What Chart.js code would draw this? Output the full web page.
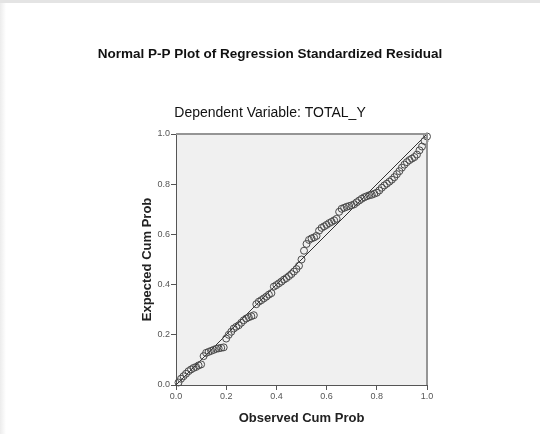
<!DOCTYPE html>
<html>
<head>
<meta charset="utf-8">
<script src="https://cdn.jsdelivr.net/npm/chart.js@4.4.1/dist/chart.umd.min.js"></script>
<style>
  html, body { margin: 0; padding: 0; background: #ffffff; }
  #wrap { position: relative; width: 540px; height: 434px; }
  #topband { position: absolute; left: 0; top: 0; width: 540px; height: 3px; background: #e4e4e4; }
  #leftshade { position: absolute; left: 0; top: 3px; width: 6px; height: 431px; background: linear-gradient(to right, #ececec, #ffffff); }
  canvas { position: absolute; left: 0; top: 0; }
</style>
</head>
<body>
<div id="wrap">
  <div id="topband"></div>
  <div id="leftshade"></div>
  <canvas id="c" width="540" height="434"></canvas>
</div>
<script>
const chartTitle = "Normal P-P Plot of Regression Standardized Residual";
const chartSubtitle = "Dependent Variable: TOTAL_Y";
const xAxisTitle = "Observed Cum Prob";
const yAxisTitle = "Expected Cum Prob";
const tickValues = [0.0, 0.2, 0.4, 0.6, 0.8, 1.0];

const observedCumProb = [
  0.01,0.02,0.03,0.04,0.05,0.06,0.07,0.08,0.09,0.10,
  0.11,0.12,0.13,0.14,0.15,0.16,0.17,0.18,0.19,0.20,
  0.21,0.22,0.23,0.24,0.25,0.26,0.27,0.28,0.29,0.30,
  0.31,0.32,0.33,0.34,0.35,0.36,0.37,0.38,0.39,0.40,
  0.41,0.42,0.43,0.44,0.45,0.46,0.47,0.48,0.49,0.50,
  0.51,0.52,0.53,0.54,0.55,0.56,0.57,0.58,0.59,0.60,
  0.61,0.62,0.63,0.64,0.65,0.66,0.67,0.68,0.69,0.70,
  0.71,0.72,0.73,0.74,0.75,0.76,0.77,0.78,0.79,0.80,
  0.81,0.82,0.83,0.84,0.85,0.86,0.87,0.88,0.89,0.90,
  0.91,0.92,0.93,0.94,0.95,0.96,0.97,0.98,0.99,1.00
];
const expectedCumProb = [
  0.010,0.025,0.035,0.045,0.055,0.062,0.068,0.072,0.078,0.082,
  0.115,0.128,0.132,0.136,0.140,0.144,0.146,0.148,0.150,0.185,
  0.200,0.212,0.225,0.232,0.238,0.248,0.258,0.265,0.270,0.274,
  0.278,0.322,0.332,0.338,0.345,0.352,0.360,0.366,0.392,0.398,
  0.405,0.412,0.420,0.426,0.434,0.442,0.452,0.462,0.475,0.500,
  0.535,0.562,0.578,0.584,0.588,0.594,0.615,0.626,0.632,0.638,
  0.645,0.650,0.656,0.662,0.690,0.702,0.706,0.710,0.713,0.716,
  0.720,0.728,0.735,0.742,0.748,0.752,0.756,0.758,0.762,0.766,
  0.775,0.786,0.795,0.802,0.810,0.818,0.828,0.840,0.852,0.866,
  0.878,0.888,0.896,0.902,0.908,0.918,0.935,0.950,0.972,0.990
];
const refLineX = [0, 1];
const refLineY = [0, 1];

const points = observedCumProb.map((x, i) => ({ x: x, y: expectedCumProb[i] }));
const refLine = refLineX.map((x, i) => ({ x: x, y: refLineY[i] }));

const plotBg = {
  id: 'plotBg',
  beforeDraw(chart) {
    const a = chart.chartArea, ctx = chart.ctx;
    ctx.save();
    ctx.fillStyle = '#f0f0f0';
    ctx.fillRect(a.left, a.top, a.right - a.left, a.bottom - a.top);
    ctx.restore();
  },
  afterDatasetsDraw(chart) {
    const a = chart.chartArea, ctx = chart.ctx;
    ctx.save();
    ctx.strokeStyle = '#959595';
    ctx.lineWidth = 2;
    ctx.beginPath();
    ctx.moveTo(a.left, a.top);
    ctx.lineTo(a.right, a.top);
    ctx.lineTo(a.right, a.bottom);
    ctx.stroke();
    ctx.restore();
  }
};

const tickFont = { family: 'Liberation Sans', size: 9 };
const axisTitleFont = { family: 'Liberation Sans', size: 13, weight: 'bold' };

new Chart(document.getElementById('c'), {
  type: 'scatter',
  data: {
    datasets: [
      {
        type: 'line',
        data: refLine,
        borderColor: '#333333',
        borderWidth: 1,
        pointRadius: 0,
        fill: false,
        order: 2
      },
      {
        data: points,
        pointRadius: 3.5,
        pointBorderWidth: 1,
        borderColor: '#4a4a4a',
        backgroundColor: 'rgba(0,0,0,0)',
        pointBackgroundColor: 'rgba(0,0,0,0)',
        clip: 5,
        order: 1
      }
    ]
  },
  options: {
    responsive: false,
    animation: false,
    events: [],
    layout: { padding: { left: 80, right: 80, top: 0, bottom: 0 } },
    plugins: {
      legend: { display: false },
      tooltip: { enabled: false },
      title: {
        display: true,
        text: chartTitle,
        color: '#111111',
        font: { family: 'Liberation Sans', size: 13.5, weight: 'bold' },
        padding: { top: 46, bottom: 0 }
      },
      subtitle: {
        display: true,
        text: chartSubtitle,
        color: '#111111',
        font: { family: 'Liberation Sans', size: 14, weight: 'normal' },
        padding: { top: 42.9, bottom: 12.1 }
      }
    },
    scales: {
      x: {
        type: 'linear',
        min: 0, max: 1,
        afterBuildTicks(scale) { scale.ticks = tickValues.map(v => ({ value: v })); },
        afterFit(scale) { scale.height = 49; },
        ticks: { callback: v => v.toFixed(1), font: tickFont, color: '#555555', padding: 1, maxRotation: 0 },
        grid: { drawOnChartArea: false, drawTicks: true, tickLength: 5, color: '#555555' },
        border: { display: true, color: '#555555', width: 1 },
        title: { display: true, text: xAxisTitle, font: axisTitleFont, color: '#222222', padding: { top: 0, bottom: 8 } }
      },
      y: {
        type: 'linear',
        position: 'left',
        min: 0, max: 1,
        afterBuildTicks(scale) { scale.ticks = tickValues.map(v => ({ value: v })); },
        afterFit(scale) { scale.width = 96; },
        ticks: { callback: v => v.toFixed(1), font: tickFont, color: '#555555', padding: 1 },
        grid: { drawOnChartArea: false, drawTicks: true, tickLength: 5, color: '#555555' },
        border: { display: true, color: '#555555', width: 1 },
        title: { display: true, text: yAxisTitle, font: axisTitleFont, color: '#222222', padding: { top: 59.2, bottom: 0 } }
      },
      yRight: {
        type: 'linear',
        position: 'right',
        min: 0, max: 1,
        display: true,
        afterFit(scale) { scale.width = 33; },
        ticks: { display: false },
        grid: { display: false, drawTicks: false },
        border: { display: false },
        title: { display: false }
      }
    }
  },
  plugins: [plotBg]
});
</script>
</body>
</html>
